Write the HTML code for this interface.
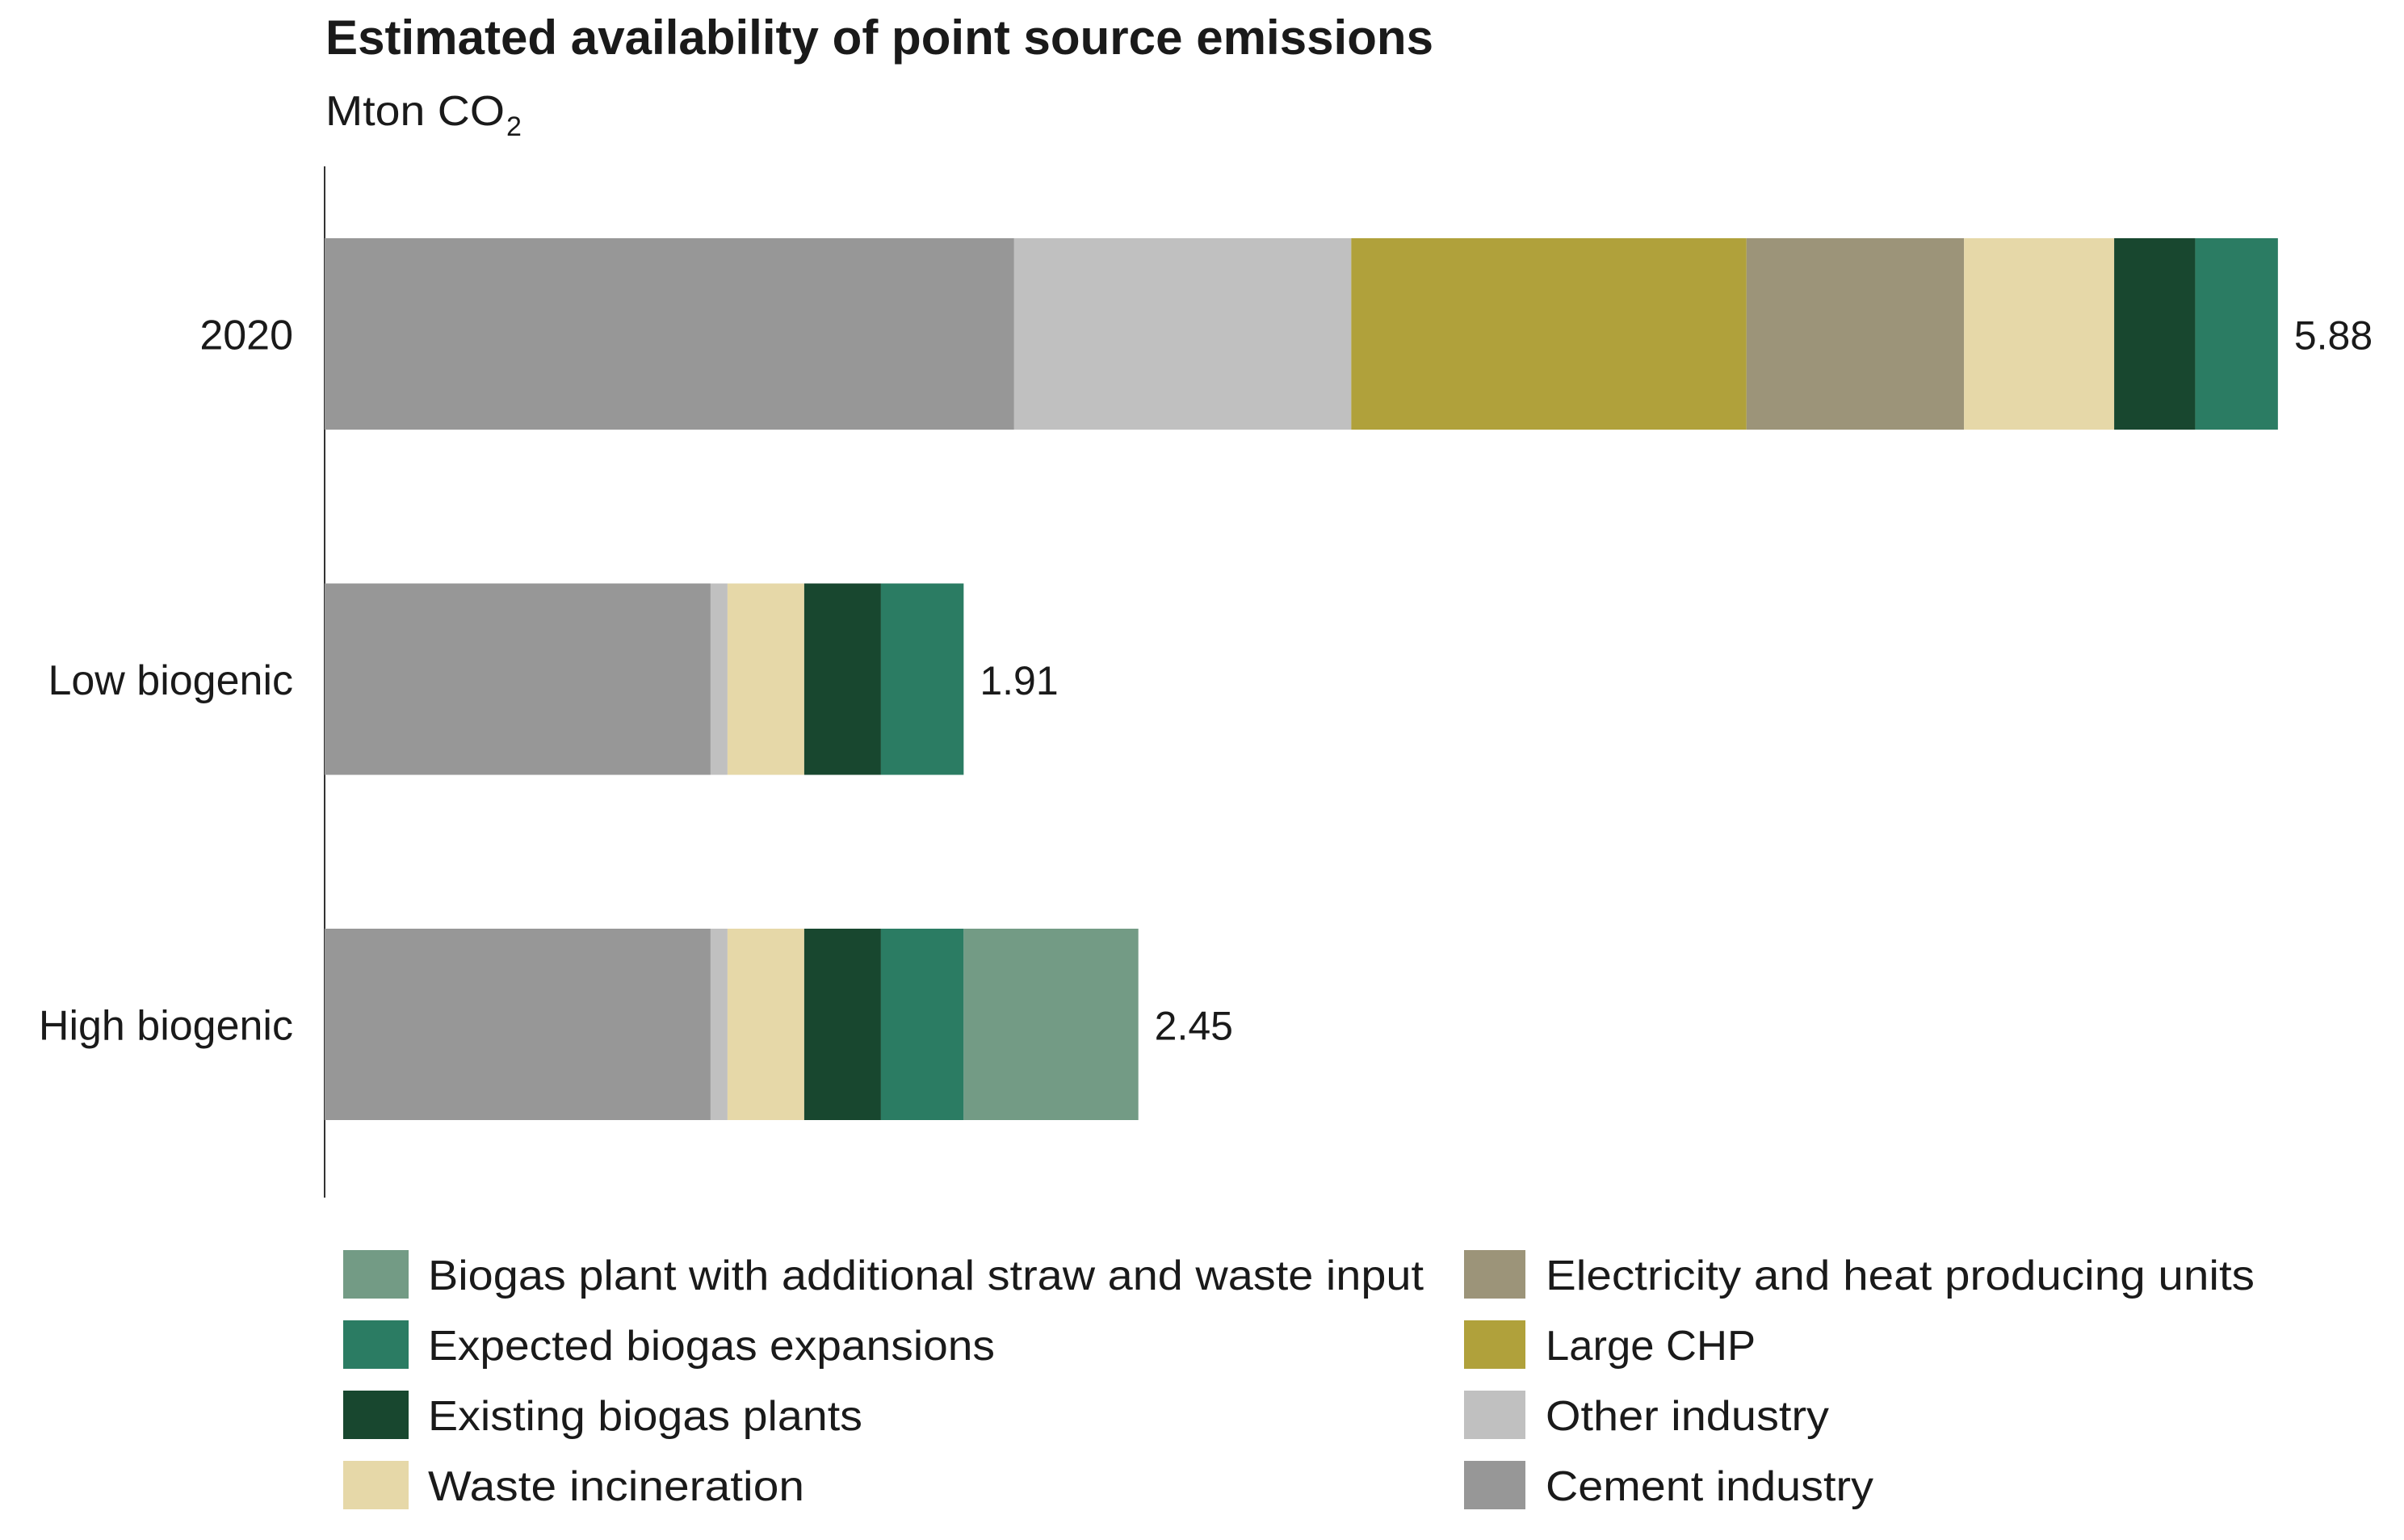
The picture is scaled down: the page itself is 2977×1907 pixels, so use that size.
<!DOCTYPE html>
<html><head><meta charset="utf-8"><style>
html,body{margin:0;padding:0;background:#fff;}
svg{display:block;}
text{font-family:"Liberation Sans",sans-serif;fill:#1a1a1a;}
</style></head><body>
<svg id="chart" width="2977" height="1907" viewBox="0 0 2977 1907" xmlns="http://www.w3.org/2000/svg">
<text x="403" y="67" font-size="60" font-weight="bold" textLength="1372" lengthAdjust="spacingAndGlyphs">Estimated availability of point source emissions</text>
<text x="403" y="155" font-size="52" textLength="222" lengthAdjust="spacingAndGlyphs">Mton CO</text>
<text x="627" y="168" font-size="34">2</text>
<line x1="402" y1="206" x2="402" y2="1483" stroke="#333" stroke-width="2"/>
<g id="bars"></g>
<g id="legend"></g>
</svg>
<script>
const categories = ["2020", "Low biogenic", "High biogenic"];
const totals = ["5.88", "1.91", "2.45"];
const seriesNames = ["Cement industry","Other industry","Large CHP","Electricity and heat producing units","Waste incineration","Existing biogas plants","Expected biogas expansions","Biogas plant with additional straw and waste input"];
const cement = [2.076, 1.162, 1.162];
const otherIndustry = [1.015, 0.051, 0.051];
const largeCHP = [1.19, 0, 0];
const electricityHeat = [0.655, 0, 0];
const wasteIncineration = [0.452, 0.231, 0.231];
const existingBiogas = [0.244, 0.231, 0.231];
const expectedBiogas = [0.249, 0.249, 0.249];
const biogasStraw = [0, 0, 0.526];

const colors = ["#979797","#c0c0c0","#b0a13b","#9c9479","#e6d8a8","#18472f","#2b7c63","#739b85"];
const series = [cement, otherIndustry, largeCHP, electricityHeat, wasteIncineration, existingBiogas, expectedBiogas, biogasStraw];
const NS = "http://www.w3.org/2000/svg";
const x0 = 402, pxPerUnit = 411.3;
function xScale(v){ return x0 + v * pxPerUnit; }
const bandTop = 295, bandStep = 427.5, barH = 237;
function yScale(i){ return bandTop + i * bandStep; }

const gb = document.getElementById('bars');
categories.forEach((cat, i) => {
  let acc = 0;
  const y = yScale(i);
  series.forEach((s, k) => {
    const v = s[i];
    if (v <= 0) return;
    const r = document.createElementNS(NS, 'rect');
    
    
    r.setAttribute('x', xScale(acc));
    r.setAttribute('y', y);
    r.setAttribute('width', xScale(acc + v) - xScale(acc));
    r.setAttribute('height', barH);
    r.setAttribute('fill', colors[k]);
    gb.appendChild(r);
    acc += v;
  });
  const lab = document.createElementNS(NS, 'text');
  
  
  lab.setAttribute('x', 363);
  lab.setAttribute('y', y + barH / 2 + 19);
  lab.setAttribute('font-size', '52');
  lab.setAttribute('text-anchor', 'end');
  lab.textContent = cat;
  gb.appendChild(lab);
  const val = document.createElementNS(NS, 'text');
  
  
  val.setAttribute('x', xScale(acc) + 20);
  val.setAttribute('y', y + barH / 2 + 19);
  val.setAttribute('font-size', '50');
  val.textContent = totals[i];
  gb.appendChild(val);
});

const legendOrder = [7,6,5,4,3,2,1,0];
const legendWidths = [1233,702,538,466,878,260,351,406];
const gl = document.getElementById('legend');
legendOrder.forEach((k, j) => {
  const col = Math.floor(j / 4), row = j % 4;
  const sx = col === 0 ? 425 : 1813;
  const sw = col === 0 ? 81 : 76;
  const cy = 1578 + row * 87;
  const g = document.createElementNS(NS, 'g');
  
  
  const r = document.createElementNS(NS, 'rect');
  
  
  r.setAttribute('x', sx); r.setAttribute('y', cy - 30);
  r.setAttribute('width', sw); r.setAttribute('height', 60);
  r.setAttribute('fill', colors[k]);
  g.appendChild(r);
  const t = document.createElementNS(NS, 'text');
  
  
  t.setAttribute('x', col === 0 ? 530 : 1914);
  t.setAttribute('y', cy + 19);
  t.setAttribute('font-size', '52');
  t.setAttribute('textLength', legendWidths[j]);
  t.setAttribute('lengthAdjust', 'spacingAndGlyphs');
  t.textContent = seriesNames[k];
  g.appendChild(t);
  gl.appendChild(g);
});
</script>
</body></html>
